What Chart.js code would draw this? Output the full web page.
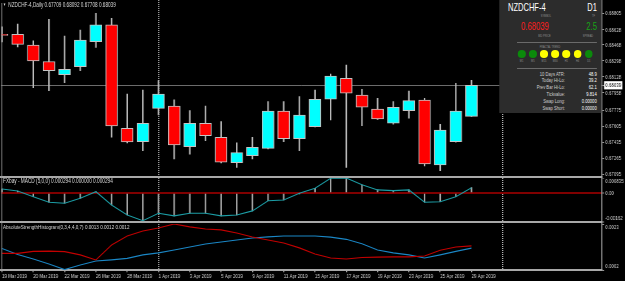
<!DOCTYPE html>
<html><head><meta charset="utf-8">
<script src="https://cdn.jsdelivr.net/npm/chart.js"></script>
<style>
html,body{margin:0;padding:0;background:#000;overflow:hidden;width:625px;height:281px;}
#wrap{position:absolute;left:0;top:0;width:845px;height:281px;transform:scaleX(0.739645);transform-origin:0 0;font-family:"Liberation Sans",Arial,sans-serif;}
canvas{position:absolute;left:0;}
.t{position:absolute;white-space:nowrap;line-height:1;}
.box{position:absolute;}
</style></head><body>
<div id="wrap">
<canvas id="c1" width="845" height="178" style="top:0px"></canvas>
<canvas id="c2" width="845" height="45" style="top:178px"></canvas>
<canvas id="c3" width="845" height="58" style="top:223px"></canvas>
</div>
<script>
// ---------- data ----------
const dates = ['18 Mar','19 Mar','20 Mar','21 Mar','22 Mar','25 Mar','26 Mar','27 Mar','28 Mar','29 Mar',
  '1 Apr','2 Apr','3 Apr','4 Apr','5 Apr','8 Apr','9 Apr','10 Apr','11 Apr','12 Apr',
  '15 Apr','16 Apr','17 Apr','18 Apr','19 Apr','22 Apr','23 Apr','24 Apr','25 Apr','26 Apr','29 Apr'];
const opens  = [0.68580,0.68582,0.68468,0.68292,0.68152,0.68237,0.68503,0.68681,0.67581,0.67439,
  0.67794,0.67819,0.67386,0.67635,0.67486,0.67215,0.67290,0.67368,0.67765,0.67471,
  0.67598,0.67890,0.68113,0.67936,0.67787,0.67635,0.67769,0.67882,0.67191,0.67439,0.67709];
const highs  = [0.68660,0.68691,0.68513,0.68741,0.68563,0.68627,0.68805,0.68752,0.67946,0.67989,
  0.68088,0.67883,0.67769,0.67819,0.67652,0.67428,0.67486,0.67865,0.67865,0.67918,
  0.67989,0.68159,0.68255,0.67996,0.67900,0.67865,0.67978,0.67900,0.67624,0.68060,0.68092];
const lows   = [0.68500,0.68446,0.68013,0.67981,0.68067,0.68194,0.68443,0.67486,0.67425,0.67343,
  0.67723,0.67255,0.67305,0.67449,0.67212,0.67166,0.67255,0.67361,0.67439,0.67343,
  0.67595,0.67670,0.67166,0.67609,0.67675,0.67624,0.67688,0.67180,0.67130,0.67435,0.67708];
const closes = [0.68570,0.68475,0.68297,0.68194,0.68209,0.68521,0.68681,0.67606,0.67436,0.67635,
  0.67946,0.67404,0.67635,0.67503,0.67220,0.67322,0.67379,0.67765,0.67471,0.67723,
  0.67890,0.68138,0.67954,0.67805,0.67680,0.67805,0.67875,0.67201,0.67563,0.67765,0.68039];
const bidPrice = 0.68039;
const priceTicks = [0.68805,0.68628,0.68468,0.68298,0.68128,0.67958,0.67775,0.67605,0.67435,0.67265,0.67095];

const macd = [0.00022,0.00011,-0.00021,-0.00052,-0.00057,-0.00030,0.00007,-0.00067,-0.00123,-0.00155,
  -0.00113,-0.00128,-0.00113,-0.00113,-0.00128,-0.00123,-0.00100,-0.00043,-0.00039,-0.00002,
  0.00026,0.00082,0.000835,0.00046,0.00017,0.00013,0.00017,-0.00052,-0.00049,-0.00021,0.000294];
const macdAxisValues = [0.000835,0,-0.00162];
const macdAxisLabels = ['0.000835','0.00','-0.00162'];

const ashRed  = [0.00096,0.00096,0.00105,0.00106,0.00104,0.00089,0.00066,0.00134,0.00175,0.00198,
  0.00212,0.00230,0.00217,0.00207,0.00203,0.00189,0.00171,0.00157,0.00143,0.00121,
  0.00093,0.00075,0.00070,0.00077,0.00079,0.00080,0.00080,0.00084,0.00110,0.00125,0.00130];
const ashBlue = [0.00118,0.00091,0.00070,0.00047,0.00022,0.00043,0.00061,0.00066,0.00073,0.00089,
  0.00098,0.00111,0.00125,0.00139,0.00148,0.00157,0.00166,0.00171,0.00175,0.00175,
  0.00175,0.00170,0.00160,0.00140,0.00111,0.00098,0.00089,0.00075,0.00089,0.00105,0.00120];
const ashAxisValues = [0.0023,0.0002];
const ashAxisLabels = ['0.0023','0.0002'];

const xTickIndex  = [0,2,4,6,8,10,12,14,16,18,20,22,24,26,28,30];
const xTickLabels = ['19 Mar 2019','20 Mar 2019','22 Mar 2019','26 Mar 2019','28 Mar 2019','1 Apr 2019',
  '3 Apr 2019','5 Apr 2019','9 Apr 2019','11 Apr 2019','15 Apr 2019','17 Apr 2019','19 Apr 2019',
  '23 Apr 2019','25 Apr 2019','29 Apr 2019'];
const periodSeparators = [10,32];

const infoLabels = ['10 Days ATR:','Today Hi-Lo:','Prev Bar Hi-Lo:','Tickvalue:','Swap Long:','Swap Short:'];
const infoValues = ['48.9','39.2','62.1','9.814','0.00000','0.00000'];
const fractalTF = ['M1','M5','M15','M30','H1','H4','D1'];
const fractalState = ['up','up','flat','flat','flat','flat','up'];

// ---------- layout helpers ----------
const W = 845, K = 845/625;            // logical px per screen px (wrapper is scaled by 625/845)
const L = a => a*K;
const FONT = "'Liberation Sans', Arial, sans-serif";
const XMIN = -0.0639, XMAX = 38.34;
const AXW = W - L(602);                 // right axis width
const clear = 'rgba(0,0,0,0)';
const frameCol = '#a8a8a8';
const wrap = document.getElementById('wrap');

function noPad(s){ s.paddingTop=0; s.paddingBottom=0; s.paddingLeft=0; s.paddingRight=0; }

function xAxis(extra){
  return Object.assign({
    type:'linear', min:XMIN, max:XMAX, offset:false, position:'bottom',
    afterBuildTicks:s=>{ s.ticks = periodSeparators.map(v=>({value:v})); },
    afterFit:s=>{ s.height=1; noPad(s); },
    ticks:{display:false},
    grid:{offset:false, color:'#c8c8c8', lineWidth:L(1), drawTicks:false},
    border:{display:true, color:frameCol, width:2, dash:[1,1]}
  }, extra||{});
}
function yAxis(min,max,vals,labelFn,extra){
  const base = {
    position:'right', min:min, max:max,
    afterBuildTicks:s=>{ s.ticks = vals.map(v=>({value:v})); },
    afterFit:s=>{ s.width=AXW; noPad(s); },
    ticks:{autoSkip:false, font:{family:FONT,size:6}, color:'#d0d0d0', padding:1.6, callback:labelFn},
    grid:{color:clear, drawOnChartArea:true, tickLength:L(2), tickColor:'#b0b0b0', tickWidth:1},
    border:{display:true, color:frameCol, width:L(1)}
  };
  if(extra){ for(const k in extra){ base[k]=Object.assign(base[k]||{}, extra[k]); } }
  return base;
}
const common = {responsive:false, animation:false, devicePixelRatio:1, events:[],
  plugins:{legend:{display:false}, tooltip:{enabled:false}}};

// ---------- main price panel ----------
const pTop = 0.68805 + 13.3/9398, pBot = 0.68805 - 163.7/9398;
new Chart(document.getElementById('c1'), {
  type:'bar',
  data:{datasets:[
    {label:'body', order:0, grouped:false, barThickness:L(12), borderSkipped:false,
     data: dates.map((d,i)=>({x:i, y:[opens[i], closes[i]]})),
     backgroundColor: c => closes[c.dataIndex] >= opens[c.dataIndex] ? '#00ffff' : '#ff0000',
     borderColor:'#c4c4c4', borderWidth:{left:L(1), right:L(1), top:1, bottom:1}},
    {label:'wick', order:1, grouped:false, barThickness:L(1), borderWidth:0,
     data: dates.map((d,i)=>({x:i, y:[lows[i], highs[i]]})),
     backgroundColor:'#bdbdbd'}
  ]},
  options: Object.assign({}, common, {
    layout:{padding:{left:L(1), top:0, right:0, bottom:0}},
    scales:{
      x: xAxis(),
      y: yAxis(pBot, pTop, priceTicks.concat([bidPrice]), v=>v.toFixed(5), {
        ticks:{color:c=>(c.tick && c.tick.value===bidPrice)?'#000':'#d0d0d0',
               showLabelBackdrop:c=>!!(c.tick && c.tick.value===bidPrice),
               backdropColor:'#ffffff', backdropPadding:{left:1.5,right:1.5,top:0.5,bottom:0.5}},
        grid:{color:c=>(c.tick && c.tick.value===bidPrice)?'#6c6c6c':clear, lineWidth:1}
      })
    }
  })
});

// ---------- MACD panel ----------
new Chart(document.getElementById('c2'), {
  type:'bar',
  data:{datasets:[
    {type:'bar', order:1, grouped:false, barThickness:L(1), backgroundColor:'#a8a8a8',
     data: macd.map((v,i)=>({x:i, y:v}))},
    {type:'line', order:0, borderColor:'#1c9ea6', borderWidth:1.1, pointRadius:0, tension:0,
     data: macd.map((v,i)=>({x:i, y:v}))}
  ]},
  options: Object.assign({}, common, {
    layout:{padding:{left:L(1), top:0, right:0, bottom:0}},
    scales:{
      x: xAxis(),
      y: yAxis(macdAxisValues[2], macdAxisValues[0], macdAxisValues, (v,i)=>{
            const s = macdAxisLabels[i];
            if(i===0) return ['', s];
            if(i===macdAxisValues.length-1) return [s, ''];
            return s; }, {
        grid:{color:c=>(c.tick && c.tick.value===0)?'#800000':clear, lineWidth:2}
      })
    }
  })
});

// ---------- Absolute Strength panel ----------
const ticks3 = xTickIndex.concat(periodSeparators.filter(v=>xTickIndex.indexOf(v)<0));
new Chart(document.getElementById('c3'), {
  type:'line',
  data:{datasets:[
    {borderColor:'#c40000', borderWidth:1.1, pointRadius:0, tension:0, data: ashRed.map((v,i)=>({x:i,y:v}))},
    {borderColor:'#1b87c6', borderWidth:1.1, pointRadius:0, tension:0, data: ashBlue.map((v,i)=>({x:i,y:v}))}
  ]},
  options: Object.assign({}, common, {
    layout:{padding:{left:L(1), top:1, right:0, bottom:0}},
    scales:{
      x: xAxis({
        afterBuildTicks:s=>{ s.ticks = ticks3.map(v=>({value:v})); },
        afterFit:s=>{ s.height=11; noPad(s); },
        ticks:{display:true, autoSkip:false, maxRotation:0, minRotation:0, align:'start', padding:0.6,
               font:{family:FONT,size:6}, color:'#d0d0d0',
               callback:v=>{ const j=xTickIndex.indexOf(v); return j<0?'':xTickLabels[j]; }},
        grid:{offset:false, lineWidth:L(1), drawTicks:true, tickLength:2.2, tickWidth:L(1),
              color:c=>(c.tick && periodSeparators.indexOf(c.tick.value)>=0)?'#c8c8c8':clear,
              tickColor:c=>(c.tick && xTickIndex.indexOf(c.tick.value)>=0)?'#b0b0b0':clear}
      }),
      y: yAxis(ashAxisValues[1], ashAxisValues[0], ashAxisValues, (v,i)=> i===0 ? ['', ashAxisLabels[0]] : [ashAxisLabels[1], ''])
    }
  })
});

// ---------- overlay text & decorations ----------
function box(xAct, y, wAct, h, bg, extra){
  const d=document.createElement('div'); d.className='box';
  d.style.left=L(xAct)+'px'; d.style.top=y+'px'; d.style.width=L(wAct)+'px'; d.style.height=h+'px';
  d.style.background=bg; if(extra) Object.assign(d.style, extra); wrap.appendChild(d); return d;
}
function txt(str, xAct, baseline, size, color, align, extra){
  const d=document.createElement('div'); d.className='t'; d.textContent=str;
  d.style.fontSize=size+'px'; d.style.color=color; d.style.top=(baseline-0.8465*size)+'px';
  const x=L(xAct);
  if(align==='right') d.style.right=(W-x)+'px';
  else if(align==='center'){ d.style.left=x+'px'; d.style.transform='translateX(-50%)'; }
  else d.style.left=x+'px';
  if(extra) Object.assign(d.style, extra);
  wrap.appendChild(d); return d;
}
// left frame line
box(1.3, 3, 0.9, 267, '#9a9a9a');

// window titles
txt('\u25BC', 3, 6.8, 4.2, '#d8d8d8');
txt('NZDCHF-4,Daily  ' + [opens[30],highs[30],lows[30],closes[30]].map(v=>v.toFixed(5)).join(' '), 8.3, 7.2, 6.3, '#d8d8d8');
txt('FXbay - MACD (5,0,0) 0.000294 0.000000 0.000294', 3, 183, 6.4, '#d8d8d8');
txt('AbsoluteStrengthHistogram(0,3,4,4,0,7) 0.0013 0.0012 0.0012', 3, 229.6, 6.2, '#d8d8d8');

// info panel
box(499, 0, 102, 113, '#2c2c2c');
const gray = '#8c8c8c';
txt('NZDCHF-4', 508, 11.2, 10.2, '#ffffff');
txt('D1', 597, 11.2, 10.2, '#ffffff', 'right');
txt('SYMBOL', 546, 17.6, 3.4, gray, 'center');
txt('TF', 593.5, 17.6, 3.4, gray, 'center');
txt(bidPrice.toFixed(5), 521, 30.8, 10.4, '#ff1e1e');
txt('2.5', 597, 30.8, 10.4, '#16a316', 'right');
txt('BID PRICE', 544.5, 37.4, 3.4, gray, 'center');
txt('SPREAD', 588, 37.4, 3.4, gray, 'center');
box(517, 41.5, 80, 1, '#6a6a6a');
txt('FRACTAL TREND', 550, 48.4, 3.4, gray, 'center');
fractalTF.forEach((tf,i)=>{
  const cx = 521.6 + 11.2*i;
  box(cx-4, 50.3, 8, 8, fractalState[i]==='up' ? '#0b8a0b' : '#ffff00', {borderRadius:'50%'});
  txt(tf, cx, 62.4, 3.4, gray, 'center');
});
box(517, 68, 80, 1, '#6a6a6a');
infoLabels.forEach((s,i)=>{
  const b = 76.3 + 6.8*i;
  txt(s, 565, b, 5.6, '#cfcfcf', 'right');
  txt(infoValues[i], 596.7, b, 5.6, '#ffffff', 'right');
});
</script>
</body></html>
